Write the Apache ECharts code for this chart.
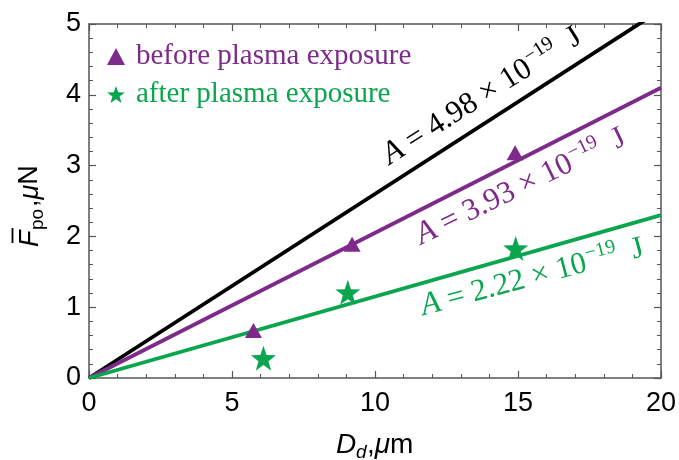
<!DOCTYPE html>
<html><head><meta charset="utf-8">
<script src="https://cdn.jsdelivr.net/npm/echarts@6/dist/echarts.min.js"></script>
<style>html,body{margin:0;padding:0;background:#fff}#c{width:679px;height:460px}</style>
</head><body><div id="c"></div>
<script>
// data
const beforeX = [5.75, 9.2, 14.9];
const beforeY = [0.67, 1.89, 3.18];
const afterX = [6.1, 9.05, 14.92];
const afterY = [0.28, 1.21, 1.83];
const fitX = [0, 20];
const fitBlackY = [0, 5.2];
const fitPurpleY = [0, 4.1];
const fitGreenY = [0, 2.3];
const xTicks = [0, 5, 10, 15, 20];
const yTicks = [0, 1, 2, 3, 4, 5];
const legendNames = ['before plasma exposure', 'after plasma exposure'];
const annBlack = {x: 13.75, y: 3.98, text: '4.98'};
const annPurple = {x: 15.1, y: 2.7, text: '3.93'};
const annGreen = {x: 15.5, y: 1.42, text: '2.22'};

const PURPLE = '#7d2a8a', GREEN = '#0aa64e', AXC = '#555';
const STAR = 'path://M0,-10 L2.35,-3.24 L9.51,-3.09 L3.8,1.24 L5.88,8.09 L0,4 L-5.88,8.09 L-3.8,1.24 L-9.51,-3.09 L-2.35,-3.24 Z';
const zip = (a, b) => a.map((v, i) => [v, b[i]]);

const chart = echarts.init(document.getElementById('c'), null, {renderer: 'canvas'});
const axisCommon = {
  min: 0, interval: 5, splitLine: {show: false},
  axisLine: {onZero: false, lineStyle: {color: AXC, width: 1.5}},
  axisTick: {inside: true, length: 7, lineStyle: {color: AXC, width: 1.2}},
  minorTick: {show: true, splitNumber: 5, length: 4, lineStyle: {color: AXC, width: 1}}
};
const opt = {
  animation: false,
  grid: {left: 89, right: 16, top: 24, bottom: 82, containLabel: false},
  xAxis: [
    Object.assign({}, axisCommon, {type: 'value', max: 20, position: 'bottom',
      axisLabel: {fontFamily: 'Liberation Sans', fontSize: 27, color: '#000', margin: 12}}),
    Object.assign({}, axisCommon, {type: 'value', max: 20, position: 'top', axisLabel: {show: false}})
  ],
  yAxis: [
    Object.assign({}, axisCommon, {type: 'value', max: 5, interval: 1, position: 'left',
      axisLabel: {fontFamily: 'Liberation Sans', fontSize: 27, color: '#000', margin: 8}}),
    Object.assign({}, axisCommon, {type: 'value', max: 5, interval: 1, position: 'right', axisLabel: {show: false}})
  ],
  legend: {
    orient: 'vertical', left: 102, top: 37, itemGap: 9, itemWidth: 18, itemHeight: 17,
    textStyle: {fontFamily: 'Liberation Serif', fontSize: 29, lineHeight: 24, padding: [0, 0, 0, 6]},
    data: [
      {name: legendNames[0], icon: 'triangle', textStyle: {color: PURPLE}},
      {name: legendNames[1], icon: STAR, textStyle: {color: GREEN}}
    ]
  },
  series: [
    {type: 'line', data: zip(fitX, fitBlackY), symbol: 'none', lineStyle: {color: '#000', width: 3.8}, z: 2, silent: true},
    {type: 'line', data: zip(fitX, fitPurpleY), symbol: 'none', lineStyle: {color: PURPLE, width: 3.8}, z: 2, silent: true},
    {type: 'line', data: zip(fitX, fitGreenY), symbol: 'none', lineStyle: {color: GREEN, width: 3.8}, z: 2, silent: true},
    {name: legendNames[0], type: 'scatter', data: zip(beforeX, beforeY), symbol: 'triangle', symbolSize: [17, 15], itemStyle: {color: PURPLE, opacity: 1}, z: 5},
    {name: legendNames[1], type: 'scatter', data: zip(afterX, afterY), symbol: STAR, symbolSize: 25, itemStyle: {color: GREEN, opacity: 1}, z: 5}
  ]
};
chart.setOption(opt);

function ann(a, color, angleDeg) {
  const p = chart.convertToPixel({gridIndex: 0}, [a.x, a.y]);
  return {
    type: 'text', x: p[0], y: p[1], rotation: angleDeg * Math.PI / 180, z: 10,
    style: {
      text: '{a|A} = ' + a.text + ' × 10{s|−19} J',
      align: 'center', verticalAlign: 'middle',
      fill: color, font: '31px "Liberation Serif"',
      rich: {
        a: {fontFamily: 'Liberation Serif', fontStyle: 'italic', fontSize: 32, fill: color},
        s: {fontFamily: 'Liberation Serif', fontSize: 20, fill: color, padding: [0, 7, 17, 1]}
      }
    }
  };
}
const sans = 'Liberation Sans';
// y axis title (rotated), built from text pieces
const yTitle = {
  type: 'group', x: 30, y: 247, rotation: Math.PI / 2, z: 10,
  children: [
    {type: 'text', x: 0, y: 0, style: {text: 'F', fontFamily: sans, fontStyle: 'italic', fontSize: 27, fill: '#000', align: 'left', verticalAlign: 'middle'}},
    {type: 'line', shape: {x1: 4, y1: -17.5, x2: 19, y2: -17.5}, style: {stroke: '#000', lineWidth: 1.8}},
    {type: 'text', x: 17, y: 7.7, style: {text: 'po', fontFamily: sans, fontSize: 19, fill: '#000', align: 'left', verticalAlign: 'middle'}},
    {type: 'text', x: 40, y: 0, style: {text: ',{i|μ}N', fontFamily: sans, fontSize: 27, fill: '#000', align: 'left', verticalAlign: 'middle',
      rich: {i: {fontFamily: sans, fontStyle: 'italic', fontSize: 27, fill: '#000'}}}}
  ]
};
// x axis title
const xTitle = {
  type: 'group', x: 336, y: 445, z: 10,
  children: [
    {type: 'text', x: 0, y: 0, style: {text: 'D', fontFamily: sans, fontStyle: 'italic', fontSize: 28, fill: '#000', align: 'left', verticalAlign: 'middle'}},
    {type: 'text', x: 20, y: 7.5, style: {text: 'd', fontFamily: sans, fontStyle: 'italic', fontSize: 19, fill: '#000', align: 'left', verticalAlign: 'middle'}},
    {type: 'text', x: 31, y: 0, style: {text: ',{i|μ}m', fontFamily: sans, fontSize: 28, fill: '#000', align: 'left', verticalAlign: 'middle',
      rich: {i: {fontFamily: sans, fontStyle: 'italic', fontSize: 28, fill: '#000'}}}}
  ]
};
chart.setOption({graphic: [
  ann(annBlack, '#000', 32.5),
  ann(annPurple, PURPLE, 26),
  ann(annGreen, GREEN, 15),
  yTitle, xTitle
]});
</script></body></html>
